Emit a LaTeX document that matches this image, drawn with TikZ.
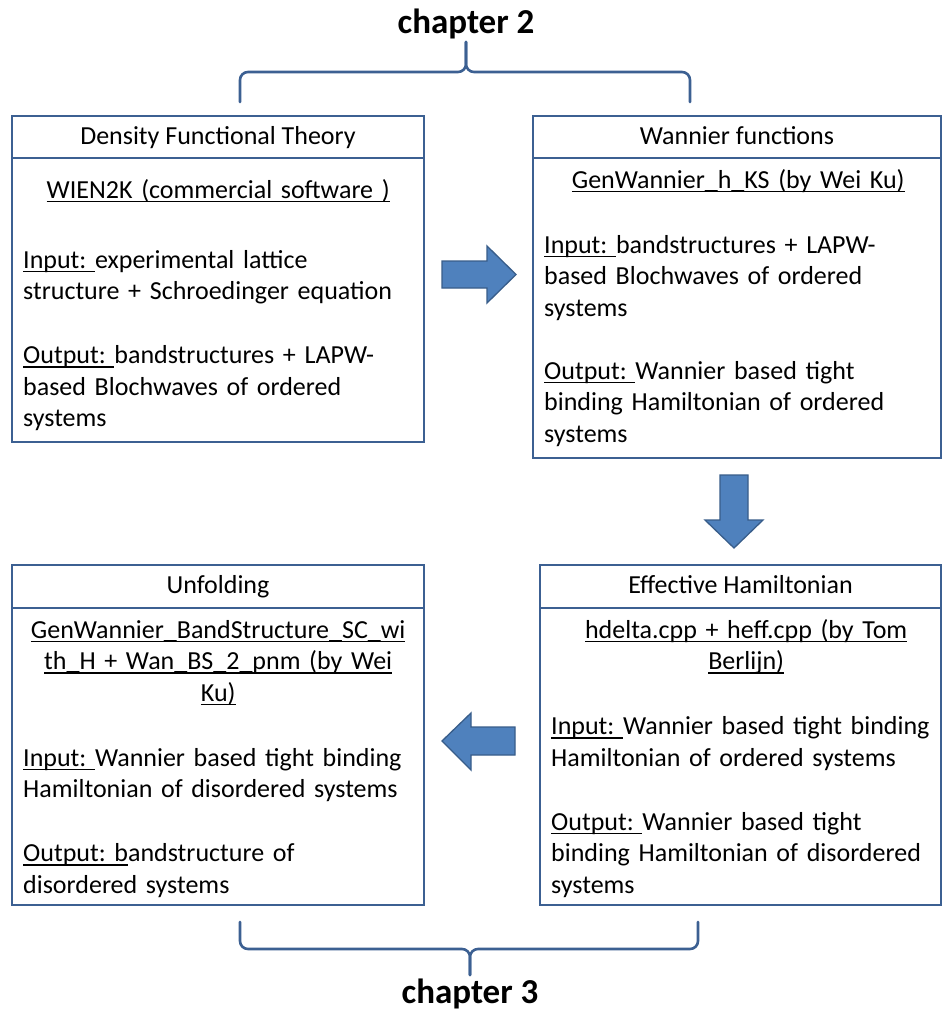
\documentclass[tikz,border=0pt]{standalone}
\usepackage{fontspec}
\setmainfont{Carlito}
\usetikzlibrary{positioning}
\setlength{\parindent}{0pt}
\setlength{\lineskiplimit}{-50pt}
\frenchspacing
\hyphenpenalty=10000

\definecolor{frameblue}{RGB}{60,96,146}
\definecolor{arrowfill}{RGB}{79,129,189}
\definecolor{arrowedge}{RGB}{56,93,138}

\newsavebox{\udlbox}
\newcommand{\udl}[1]{\leavevmode\sbox{\udlbox}{#1}\rlap{\rule[-4pt]{\wd\udlbox}{1.3pt}}\usebox{\udlbox}}
\newcommand{\firstline}{\rule{0pt}{24pt}}

\tikzset{
  hdr/.style={draw=frameblue, line width=2.6pt, fill=white, outer sep=0pt,
    minimum height=42pt, text height=19pt, text depth=5pt,
    font=\fontsize{26}{31.5}\selectfont},
  panel/.style={draw=frameblue, line width=2.6pt, fill=white, outer sep=0pt},
  bodytext/.style={anchor=north west, inner sep=0pt, align=left,
    font=\fontsize{26}{31.5}\selectfont},
  blockarrow/.style={fill=arrowfill, draw=arrowedge, line width=1.3pt, line join=miter},
  bracket/.style={draw=frameblue, line width=2.6pt, rounded corners=8pt, line cap=round},
  chap/.style={anchor=base, inner sep=0pt, font=\fontsize{35}{42}\selectfont\bfseries}
}

\begin{document}
\begin{tikzpicture}[x=1pt, y=-1pt]
  \fill[white] (0,0) rectangle (943,1012);
  \useasboundingbox (0,0) rectangle (943,1012);

  % chapter 2
  \node[chap] (ch2) at (466,33) {chapter 2};
  \draw[bracket] (240,102) -- (240,72) -- (466,72) -- (466,42);
  \draw[bracket] (690,102) -- (690,72) -- (466,72) -- (466,42);

  % DFT
  \node[hdr, minimum width=412pt] (dftHead) at (218,137) {Density Functional Theory};
  \node[panel, minimum width=412pt, minimum height=284pt, below=0pt of dftHead] (dft) {};
  \node[bodytext, text width=390pt] (dftText) at ([xshift=11pt, yshift=-16pt]dft.north west)
    {\firstline{\centering\udl{WIEN2K (commercial software )}\par}
     \vspace{38.5pt}
     \udl{Input: }experimental lattice\\
     structure + Schroedinger equation\\[32.5pt]
     \udl{Output: }bandstructures + LAPW-\\
     based Blochwaves of ordered\\
     systems};

  % Wannier
  \node[hdr, minimum width=408pt] (wanHead) at (737,137) {Wannier functions};
  \node[panel, minimum width=408pt, minimum height=300pt, below=0pt of wanHead] (wan) {};
  \node[bodytext, text width=388pt] (wanText) at ([xshift=11pt, yshift=-6pt]wan.north west)
    {\firstline{\centering\udl{GenWannier\_h\_KS (by Wei Ku)}\par}
     \vspace{33.5pt}
     \udl{Input: }bandstructures + LAPW-\\
     based Blochwaves of ordered\\
     systems\\[31.5pt]
     \udl{Output: }Wannier based tight\\
     binding Hamiltonian of ordered\\
     systems};

  % Effective Hamiltonian
  \node[hdr, minimum width=401pt, minimum height=43pt] (effHead) at (740.5,586.5) {Effective Hamiltonian};
  \node[panel, minimum width=401pt, minimum height=297pt, below=0pt of effHead] (eff) {};
  \node[bodytext, text width=390pt] (effText) at ([xshift=11pt, yshift=-6pt]eff.north west)
    {\firstline{\centering\udl{hdelta.cpp + heff.cpp (by Tom}\\\udl{Berlijn)}\par}
     \vspace{33.5pt}
     \udl{Input: }Wannier based tight binding\\
     Hamiltonian of ordered systems\\[32.5pt]
     \udl{Output: }Wannier based tight\\
     binding Hamiltonian of disordered\\
     systems};

  % Unfolding
  \node[hdr, minimum width=412pt, minimum height=43pt] (unfHead) at (218,586.5) {Unfolding};
  \node[panel, minimum width=412pt, minimum height=297pt, below=0pt of unfHead] (unf) {};
  \node[bodytext, text width=390pt] (unfText) at ([xshift=11pt, yshift=-6pt]unf.north west)
    {\firstline{\centering\udl{GenWannier\_BandStructure\_SC\_wi}\\\udl{th\_H + Wan\_BS\_2\_pnm (by Wei}\\\udl{Ku)}\par}
     \vspace{33.5pt}
     \udl{Input: }Wannier based tight binding\\
     Hamiltonian of disordered systems\\[32.5pt]
     \udl{Output: b}andstructure of\\
     disordered systems};

  % block arrows
  \filldraw[blockarrow] (442,261) -- (487,261) -- (487,246) -- (516,274.5)
    -- (487,303) -- (487,288) -- (442,288) -- cycle;
  \filldraw[blockarrow] (720,475) -- (748,475) -- (748,520) -- (763,520)
    -- (734,548) -- (705,520) -- (720,520) -- cycle;
  \filldraw[blockarrow] (515,727) -- (471,727) -- (471,713) -- (442,741)
    -- (471,770) -- (471,755) -- (515,755) -- cycle;

  % chapter 3
  \draw[bracket] (240,922) -- (240,949) -- (470,949) -- (470,975);
  \draw[bracket] (698,922) -- (698,949) -- (470,949) -- (470,975);
  \node[chap] (ch3) at (470,1003) {chapter 3};
\end{tikzpicture}
\end{document}
